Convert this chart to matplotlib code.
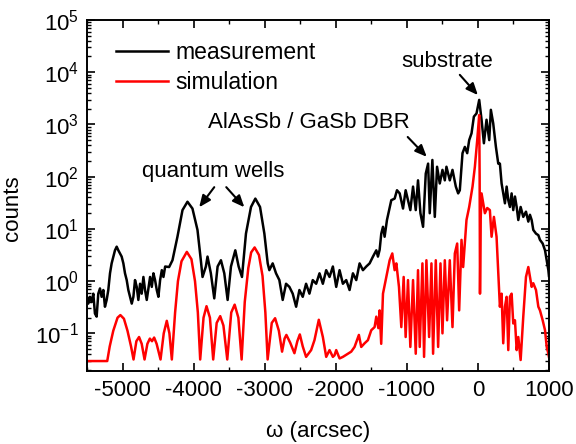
import numpy as np
import matplotlib
matplotlib.use('Agg')
import matplotlib.pyplot as plt
from matplotlib.ticker import MultipleLocator, LogLocator, NullFormatter

plt.rcParams['font.family'] = ['Liberation Sans', 'DejaVu Sans']
plt.rcParams['mathtext.default'] = 'regular'
plt.rcParams['axes.unicode_minus'] = False

meas_x = [-5529, -5505, -5482, -5458, -5435, -5411, -5388, -5364, -5341, -5317,
          -5294, -5270, -5247, -5223, -5200, -5176, -5153, -5129, -5106, -5082,
          -5059, -5035, -5012, -4988, -4965, -4941, -4918, -4894, -4870, -4847,
          -4824, -4800, -4777, -4753, -4730, -4706, -4683, -4659, -4636, -4612,
          -4588, -4565, -4542, -4518, -4495, -4471, -4447, -4424, -4400, -4344,
          -4297, -4227, -4156, -4086, -4016, -3945, -3898, -3874, -3827, -3804,
          -3757, -3709, -3662, -3615, -3568, -3521, -3474, -3413, -3366, -3319,
          -3263, -3192, -3131, -3065, -3004, -2957, -2934, -2887, -2840, -2793,
          -2746, -2699, -2652, -2605, -2557, -2511, -2464, -2417, -2370, -2323,
          -2275, -2228, -2181, -2134, -2087, -2040, -1993, -1946, -1899, -1852,
          -1805, -1758, -1711, -1664, -1617, -1570, -1523, -1476, -1429, -1406,
          -1382, -1359, -1335, -1312, -1279, -1218, -1171, -1138, -1100, -1053,
          -1016, -983, -950, -912, -874, -842, -808, -771, -733, -700,
          -677, -640, -606, -574, -536, -498, -465, -442, -395, -357,
          -310, -277, -254, -216, -183, -150, -122, -89, -56, -19,
          19, 52, 85, 122, 160, 183, 216, 254, 287, 310,
          334, 357, 381, 405, 428, 451, 475, 498, 522, 546,
          569, 602, 639, 677, 710, 733, 757, 780, 818, 851,
          874, 912, 945, 969, 992, 1000]
meas_exp = [-0.36, -0.27, -0.43, -0.30, -0.40, -0.24, -0.62, -0.68, -0.24, -0.14,
            -0.30, -0.17, -0.49, -0.36, -0.17, 0.15, 0.34, 0.47, 0.59, 0.66,
            0.59, 0.53, 0.47, 0.34, 0.15, 0.02, -0.17, -0.30, -0.43, -0.30,
            0.02, -0.11, -0.36, -0.05, -0.24, 0.08, -0.17, -0.36, -0.14, 0.08,
            -0.11, 0.15, 0.02, -0.17, -0.30, 0.02, 0.21, 0.08, 0.28, 0.27,
            0.40, 0.85, 1.36, 1.52, 1.39, 0.98, 0.40, 0.08, 0.28, 0.47,
            0.15, -0.33, 0.28, 0.40, 0.15, -0.36, 0.28, 0.59, 0.28, 0.08,
            0.91, 1.42, 1.58, 1.42, 0.91, 0.34, 0.21, 0.34, 0.15, 0.02,
            -0.36, -0.05, -0.11, -0.24, -0.49, -0.17, -0.30, -0.05, -0.24, 0.02,
            -0.05, 0.15, -0.05, 0.21, 0.08, 0.28, -0.11, 0.21, -0.05, 0.02,
            -0.17, 0.15, 0.02, 0.34, 0.21, 0.28, 0.34, 0.47, 0.59, 0.47,
            0.60, 0.91, 1.04, 0.85, 1.17, 1.55, 1.58, 1.74, 1.68, 1.39,
            1.74, 1.55, 1.36, 1.81, 1.36, 1.93, 1.30, 1.04, 2.06, 2.25,
            1.30, 2.32, 1.23, 2.19, 1.87, 2.13, 1.93, 2.19, 1.93, 2.13,
            1.81, 1.68, 1.74, 2.45, 2.57, 2.45, 2.70, 2.83, 3.15, 3.21,
            3.47, 3.09, 2.64, 3.09, 2.70, 3.28, 3.02, 2.57, 2.25, 2.25,
            1.87, 1.68, 1.49, 1.81, 1.55, 1.42, 1.68, 1.36, 1.62, 1.42,
            1.17, 1.42, 1.23, 1.33, 1.14, 1.27, 1.17, 0.98, 0.91, 0.88,
            0.79, 0.72, 0.59, 0.40, 0.21, 0.10]

# simulation: omega (arcsec) and log10(counts)
sim_x = [-5500, -5215, -5180, -5130, -5070, -5030, -4980, -4930, -4880, -4845,
         -4805, -4767, -4730, -4690, -4650, -4615, -4585, -4555, -4520, -4465,
         -4420, -4377, -4340, -4306, -4260, -4220, -4170, -4095, -4030, -3980,
         -3940, -3907, -3860, -3818, -3770, -3724, -3675, -3625, -3580, -3526,
         -3470, -3422, -3370, -3324, -3280, -3230, -3190, -3141, -3080, -3030,
         -2990, -2958, -2900, -2853, -2800, -2755, -2720, -2694, -2640, -2581,
         -2540, -2505, -2464, -2417, -2346, -2299, -2238, -2181, -2134, -2087,
         -2040, -2017, -1993, -1946, -1899, -1829, -1782, -1735, -1674, -1641,
         -1594, -1547, -1500, -1453, -1429, -1400, -1382, -1360, -1335, -1288,
         -1241, -1204, -1171, -1147, -1110, -1077, -1044, -1016, -983, -950,
         -912, -874, -842, -818, -780, -757, -724, -686, -653, -630,
         -592, -559, -526, -498, -465, -433, -395, -357, -324, -291,
         -263, -230, -207, -160, -122, -75, -42, -9, 19, 25,
         30, 40, 52, 99, 132, 169, 193, 226, 263, 310,
         334, 357, 381, 405, 428, 451, 475, 498, 522, 546,
         569, 602, 639, 677, 710, 733, 757, 780, 818, 851,
         874, 912, 945, 969, 992, 1000]
sim_exp = [-1.53, -1.53, -1.25, -0.95, -0.70, -0.65, -0.72, -0.95, -1.25, -1.50,
           -1.15, -1.07, -1.20, -1.50, -1.20, -1.10, -1.15, -1.08, -1.20, -1.50,
           -1.00, -0.76, -1.00, -1.50, -0.60, 0.00, 0.38, 0.56, 0.42, 0.00,
           -0.60, -1.50, -0.70, -0.48, -0.70, -1.50, -0.80, -0.67, -0.85, -1.50,
           -0.60, -0.45, -0.70, -1.50, -0.40, 0.25, 0.55, 0.645, 0.50, 0.10,
           -0.60, -1.50, -0.80, -0.71, -0.95, -1.35, -1.10, -1.03, -1.18, -1.38,
           -1.15, -1.02, -1.25, -1.45, -1.32, -1.13, -0.74, -1.07, -1.45, -1.32,
           -1.45, -1.42, -1.32, -1.48, -1.45, -1.39, -1.35, -1.26, -1.03, -1.26,
           -1.19, -1.13, -0.94, -0.88, -0.68, -0.90, -0.56, -1.20, -0.24, 0.08,
           0.40, 0.53, 0.21, 0.34, -0.11, -0.88, 0.08, -1.07, 0.02, -1.26,
           0.02, -1.39, 0.21, -1.26, 0.34, -1.45, 0.40, -1.07, 0.34, -1.39,
           0.40, -1.26, 0.34, -1.00, 0.40, -0.75, 0.40, -0.88, 0.53, 0.72,
           -0.56, 0.79, 0.27, 1.17, 1.42, 1.81, 2.19, 2.70, 3.18, 2.00,
           -0.24, 1.20, 1.68, 1.30, 1.40, 1.36, 0.85, 1.23, 0.85, -0.49,
           -0.24, -1.19, -0.49, -0.30, -1.32, -0.30, -0.24, -0.81, -0.75, -1.32,
           -1.07, -1.51, -0.68, 0.08, 0.27, 0.08, -0.11, -0.04, -0.17, -0.49,
           -0.56, -0.75, -0.94, -1.26, -1.39, -1.45]

meas_counts = 10.0 ** np.array(meas_exp)
sim_counts = 10.0 ** np.array(sim_exp)

fig = plt.figure(figsize=(5.76, 4.44), dpi=100)
ax = fig.add_axes([0.151, 0.164, 0.802, 0.791])

ax.plot(meas_x, meas_counts, color='black', lw=1.8, label='measurement')
ax.plot(sim_x, sim_counts, color='#ff0000', lw=1.8, label='simulation')

ax.set_yscale('log')
ax.set_xlim(-5500, 1000)
ax.set_ylim(10 ** -1.724, 1e5)

ax.xaxis.set_major_locator(MultipleLocator(1000))
ax.xaxis.set_minor_locator(MultipleLocator(500))
ax.yaxis.set_major_locator(LogLocator(base=10, numticks=10))
ax.yaxis.set_minor_locator(LogLocator(base=10, subs=np.arange(2, 10), numticks=20))
ax.yaxis.set_minor_formatter(NullFormatter())

ax.tick_params(which='both', direction='in', top=True, right=True, labelsize=16)
ax.tick_params(which='major', length=6, width=1.2, pad=6)
ax.tick_params(which='minor', length=3, width=1.0)
for s in ax.spines.values():
    s.set_linewidth(1.4)

ax.set_xlabel('ω (arcsec)', fontsize=16)
ax.set_ylabel('counts', fontsize=16)
ax.xaxis.set_label_coords(0.5, -0.142)
ax.yaxis.set_label_coords(-0.139, 0.464)

ax.legend(loc='upper left', bbox_to_anchor=(0.062, 0.94), frameon=False,
          fontsize=16.5, handlelength=2.3, handletextpad=0.3, labelspacing=0.3,
          borderpad=0, borderaxespad=0)

arrow = dict(arrowstyle='-|>,head_length=0.7,head_width=0.3', color='black',
             lw=1.5, shrinkA=0, shrinkB=0)
ax.text(-3724, 123, 'quantum wells', fontsize=16, ha='center', va='center')
ax.annotate('', xy=(-3921, 26), xytext=(-3709, 63), arrowprops=arrow)
ax.annotate('', xy=(-3286, 26), xytext=(-3540, 63), arrowprops=arrow)
ax.text(-2384, 1070, 'AlAsSb / GaSb DBR', fontsize=16, ha='center', va='center')
ax.annotate('', xy=(-719, 240), xytext=(-987, 575), arrowprops=arrow)
ax.text(-437, 15800, 'substrate', fontsize=16, ha='center', va='center')
ax.annotate('', xy=(0, 3650), xytext=(-254, 8900), arrowprops=arrow)

fig.savefig('out.png', dpi=100)
